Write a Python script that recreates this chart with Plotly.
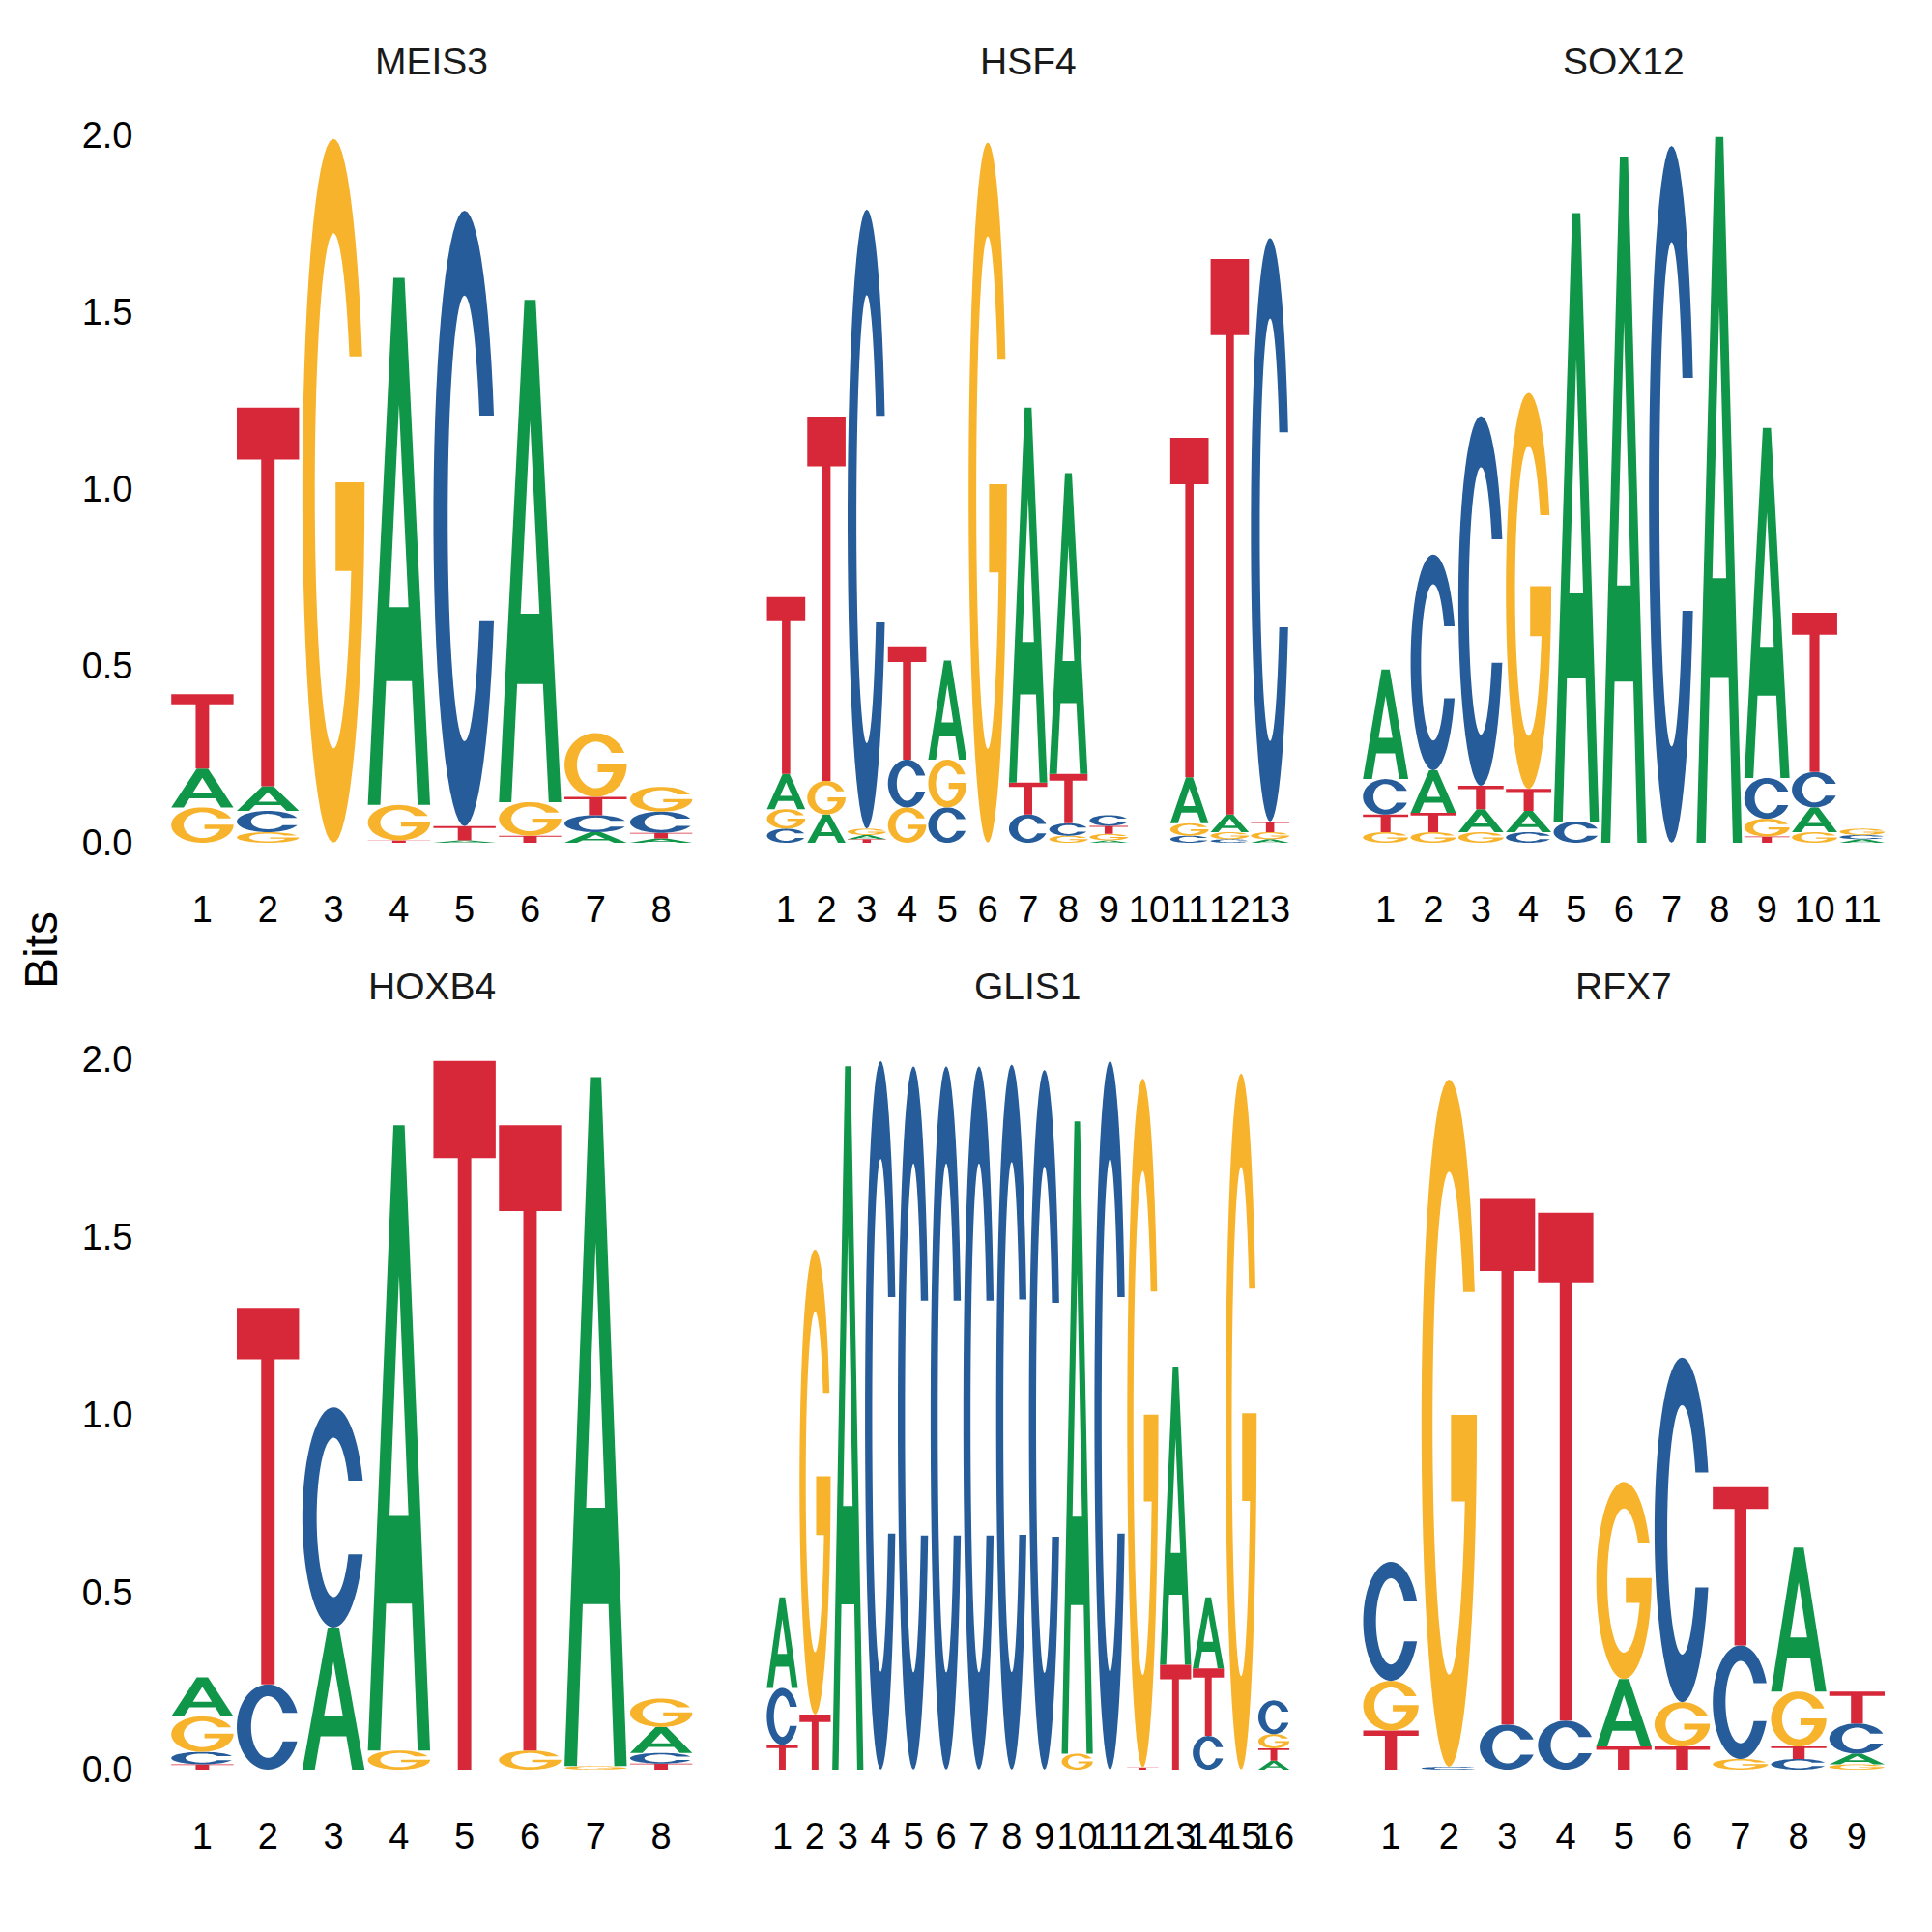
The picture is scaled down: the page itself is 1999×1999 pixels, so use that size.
import numpy as np
import plotly.graph_objects as go

# ---------------- data (information content in bits) ----------------
MOTIFS = ["MEIS3", "HSF4", "SOX12", "HOXB4", "GLIS1", "RFX7"]

MEIS3 = dict(
    A=[0.11, 0.07, 0.0, 1.49, 0.007, 1.42, 0.03, 0.012],
    C=[0.0, 0.06, 0.0, 0.0, 1.74, 0.0, 0.048, 0.06],
    G=[0.10, 0.03, 1.99, 0.10, 0.0, 0.095, 0.18, 0.07],
    T=[0.21, 1.07, 0.0, 0.007, 0.04, 0.02, 0.052, 0.016],
)
HSF4 = dict(
    A=[0.10, 0.08, 0.012, 0.0, 0.28, 0.0, 1.06, 0.85, 0.007, 0.0, 0.13, 0.05, 0.01],
    C=[0.04, 0.0, 1.75, 0.135, 0.10, 0.0, 0.08, 0.035, 0.03, 0.0, 0.02, 0.01, 1.65],
    G=[0.055, 0.095, 0.018, 0.10, 0.135, 1.98, 0.0, 0.02, 0.018, 0.0, 0.035, 0.02, 0.02],
    T=[0.50, 1.03, 0.01, 0.32, 0.0, 0.0, 0.09, 0.14, 0.023, 0.0, 0.96, 1.57, 0.03],
)
SOX12 = dict(
    A=[0.31, 0.12, 0.065, 0.06, 1.72, 1.94, 0.0, 1.995, 0.99, 0.07, 0.01],
    C=[0.10, 0.61, 1.045, 0.03, 0.06, 0.0, 1.97, 0.0, 0.115, 0.10, 0.012],
    G=[0.03, 0.03, 0.03, 1.12, 0.0, 0.0, 0.0, 0.0, 0.05, 0.03, 0.018],
    T=[0.05, 0.055, 0.066, 0.062, 0.0, 0.0, 0.0, 0.0, 0.018, 0.45, 0.0],
)
HOXB4 = dict(
    A=[0.11, 0.0, 0.40, 1.76, 0.0, 0.0, 1.94, 0.073],
    C=[0.035, 0.24, 0.62, 0.0, 0.0, 0.0, 0.0, 0.03],
    G=[0.10, 0.0, 0.0, 0.054, 0.0, 0.054, 0.01, 0.08],
    T=[0.015, 1.06, 0.0, 0.0, 1.995, 1.76, 0.0, 0.017],
)
GLIS1 = dict(
    A=[0.255, 0.0, 1.98, 0.0, 0.0, 0.0, 0.0, 0.0, 0.0, 1.78, 0.0, 0.0, 0.84, 0.20, 0.0, 0.025],
    C=[0.16, 0.0, 0.0, 1.995, 1.98, 1.98, 1.98, 1.985, 1.97, 0.0, 1.995, 0.0, 0.0, 0.095, 0.0, 0.095],
    G=[0.0, 1.31, 0.0, 0.0, 0.0, 0.0, 0.0, 0.0, 0.0, 0.045, 0.0, 1.94, 0.0, 0.0, 1.96, 0.04],
    T=[0.07, 0.155, 0.0, 0.0, 0.0, 0.0, 0.0, 0.0, 0.0, 0.0, 0.0, 0.006, 0.295, 0.19, 0.0, 0.035],
)
RFX7 = dict(
    A=[0.0, 0.0, 0.0, 0.0, 0.19, 0.0, 0.0, 0.405, 0.03],
    C=[0.335, 0.008, 0.127, 0.138, 0.0, 0.97, 0.32, 0.03, 0.085],
    G=[0.14, 1.935, 0.0, 0.0, 0.555, 0.125, 0.03, 0.155, 0.015],
    T=[0.11, 0.0, 1.48, 1.43, 0.065, 0.065, 0.445, 0.035, 0.09],
)
DATA = {"MEIS3": MEIS3, "HSF4": HSF4, "SOX12": SOX12,
        "HOXB4": HOXB4, "GLIS1": GLIS1, "RFX7": RFX7}

Y_TICKS = [0.0, 0.5, 1.0, 1.5, 2.0]
Y_TICKTEXT = ["0.0", "0.5", "1.0", "1.5", "2.0"]

# ---------------- styling ----------------
COLORS = {"A": "#109648", "C": "#255C99", "G": "#F7B32B", "T": "#D62839"}
FONT = "Liberation Sans"
W = H = 1999
LETTER_W = 0.95


# ---------------- letter glyphs (unit square) ----------------
def _ell(cx, cy, rx, ry, t0, t1, n=60):
    t = np.linspace(t0, t1, n)
    return list(zip(cx + rx * np.cos(t), cy + ry * np.sin(t)))


def glyph(letter):
    if letter == "A":
        outer = [(0, 0), (0.41, 1), (0.59, 1), (1, 0), (0.8, 0),
                 (0.707, 0.235), (0.293, 0.235), (0.2, 0)]
        hole = [(0.348, 0.375), (0.652, 0.375), (0.5, 0.76)]
        return [outer, hole]
    if letter == "T":
        return [[(0, 1), (1, 1), (1, 0.863), (0.608, 0.863), (0.608, 0),
                 (0.392, 0), (0.392, 0.863), (0, 0.863)]]
    if letter == "C":
        a = np.arcsin(0.334)
        outer = _ell(0.5, 0.5, 0.5, 0.5, a, 2 * np.pi - a)
        b = np.arcsin(0.167 / 0.362)
        inner = _ell(0.5, 0.5, 0.27, 0.362, 2 * np.pi - b, b)
        return [outer + inner]
    if letter == "G":
        a = np.arcsin(0.191 / 0.5)
        outer = _ell(0.5, 0.5, 0.5, 0.5, a, 2 * np.pi)
        bar = [(1.0, 0.512), (0.534, 0.512), (0.534, 0.386)]
        b = np.arcsin(-0.114 / 0.366)
        c = np.arcsin(0.191 / 0.366)
        inner = _ell(0.5, 0.5, 0.3, 0.366, b, c - 2 * np.pi)
        return [outer + bar + inner]
    return []


GLYPHS = {k: glyph(k) for k in "ACGT"}


def letter_path(letter, xc, y0, h):
    parts = []
    for poly in GLYPHS[letter]:
        pts = [(xc - LETTER_W / 2 + u * LETTER_W, y0 + v * h) for u, v in poly]
        s = "M " + " L ".join(f"{x:.5f},{y:.5f}" for x, y in pts) + " Z"
        parts.append(s)
    return " ".join(parts)


# ---------------- layout geometry (pixels) ----------------
COL_X = [(175.5, 718.0), (792.5, 1335.0), (1409.0, 1951.5)]
ROW_Y = [(872.0, 366.0), (1831.0, 367.5)]  # (pixel of y=0, pixels per bit)
Y_RANGE = [-0.05, 2.1]
TITLE_Y = [64, 1021]

fig = go.Figure()
layout = dict(
    width=W, height=H,
    margin=dict(l=0, r=0, t=0, b=0, pad=0, autoexpand=False),
    plot_bgcolor="white", paper_bgcolor="white", showlegend=False,
    font=dict(family=FONT, color="black"),
)
shapes, annotations = [], []

for i, name in enumerate(MOTIFS):
    r, c = divmod(i, 3)
    ax = "" if i == 0 else str(i + 1)
    d = DATA[name]
    n = len(d["A"])
    x0p, x1p = COL_X[c]
    ybase, ppb = ROW_Y[r]
    ybot = ybase - ppb * Y_RANGE[0]
    ytop = ybase - ppb * Y_RANGE[1]

    layout["xaxis" + ax] = dict(
        domain=[x0p / W, x1p / W], range=[0.5, n + 0.5], anchor="y" + ax,
        tickvals=list(range(1, n + 1)), ticktext=[str(k) for k in range(1, n + 1)],
        showgrid=False, zeroline=False, showline=False, ticks="",
        tickangle=0, automargin=False,
        tickfont=dict(size=38, family=FONT, color="black"),
        ticklabelstandoff=25, fixedrange=True,
    )
    layout["yaxis" + ax] = dict(
        domain=[1 - ybot / H, 1 - ytop / H], range=Y_RANGE, anchor="x" + ax,
        tickvals=Y_TICKS, ticktext=Y_TICKTEXT, showticklabels=(c == 0),
        showgrid=False, zeroline=False, showline=False, ticks="",
        automargin=False,
        tickfont=dict(size=38, family=FONT, color="black"),
        ticklabelstandoff=37, fixedrange=True,
    )
    # invisible trace so the subplot axes get drawn
    fig.add_trace(go.Scatter(x=[1], y=[0], mode="markers", opacity=0,
                             xaxis="x" + ax, yaxis="y" + ax, hoverinfo="skip"))

    for p in range(n):
        vals = [(d[b][p], b) for b in "ACGT"]
        vals = sorted(vals, key=lambda t: t[0])
        y0 = 0.0
        for h, b in vals:
            if h <= 0:
                continue
            shapes.append(dict(
                type="path", path=letter_path(b, p + 1, y0, h),
                xref="x" + ax, yref="y" + ax, fillcolor=COLORS[b],
                line=dict(width=0), fillrule="evenodd", layer="above",
            ))
            y0 += h

    annotations.append(dict(
        text=name, x=(x0p + x1p) / 2 / W, y=1 - TITLE_Y[r] / H,
        xref="paper", yref="paper", showarrow=False, xanchor="center", yanchor="middle",
        font=dict(size=39, family=FONT, color="#1a1a1a"),
    ))

annotations.append(dict(
    text="Bits", x=42 / W, y=1 - 983 / H, xref="paper", yref="paper",
    showarrow=False, textangle=-90, xanchor="center", yanchor="middle",
    font=dict(size=48, family=FONT, color="black"),
))

layout["shapes"] = shapes
layout["annotations"] = annotations
fig.update_layout(**layout)
fig.write_html("out.html")
